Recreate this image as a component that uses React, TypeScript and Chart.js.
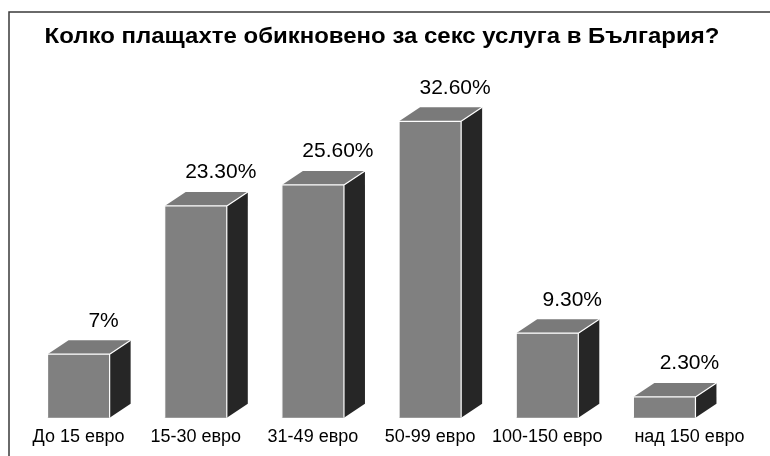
import React, { useEffect, useRef } from "react";
import { Chart, registerables } from "chart.js";

Chart.register(...registerables);

const TITLE = "Колко плащахте обикновено за секс услуга в България?";
const categories = ["До 15 евро", "15-30 евро", "31-49 евро", "50-99 евро", "100-150 евро", "над 150 евро"];
const values = [7, 23.3, 25.6, 32.6, 9.3, 2.3];
const valueLabels = ["7%", "23.30%", "25.60%", "32.60%", "9.30%", "2.30%"];

const FRONT = "#808080";
const TOP = "#7a7a7a";
const SIDE = "#262626";
const DX = 21;
const DY = 14;
const FONT = "'Liberation Sans', Arial, sans-serif";

const cubePlugin = {
  id: "cube3d",
  beforeDraw(chart: any) {
    const ctx = chart.ctx;
    ctx.save();
    ctx.fillStyle = "#ffffff";
    ctx.fillRect(0, 0, chart.width, chart.height);
    ctx.strokeStyle = "#3a3a3a";
    ctx.lineWidth = 1.5;
    ctx.strokeRect(9, 12, chart.width + 20, chart.height + 20);
    ctx.fillStyle = "#000";
    ctx.font = "bold 22px " + FONT;
    ctx.textAlign = "center";
    ctx.textBaseline = "alphabetic";
    ctx.translate(382, 43);
    ctx.scale(1.09, 1);
    ctx.fillText(TITLE, 0, 0);
    ctx.restore();
  },
  afterDatasetsDraw(chart: any) {
    const ctx = chart.ctx;
    const meta = chart.getDatasetMeta(0);
    ctx.save();
    meta.data.forEach((bar: any, i: number) => {
      const { x, y, base, width } = bar.getProps(["x", "y", "base", "width"], true);
      const l = x - width / 2;
      const r = x + width / 2;
      ctx.fillStyle = FRONT;
      ctx.fillRect(l, y, width, base - y);
      ctx.beginPath();
      ctx.moveTo(l, y);
      ctx.lineTo(l + DX, y - DY);
      ctx.lineTo(r + DX, y - DY);
      ctx.lineTo(r, y);
      ctx.closePath();
      ctx.fillStyle = TOP;
      ctx.fill();
      ctx.beginPath();
      ctx.moveTo(r, y);
      ctx.lineTo(r + DX, y - DY);
      ctx.lineTo(r + DX, base - DY);
      ctx.lineTo(r, base);
      ctx.closePath();
      ctx.fillStyle = SIDE;
      ctx.fill();
      ctx.strokeStyle = "#ffffff";
      ctx.lineWidth = 1.2;
      ctx.beginPath();
      ctx.moveTo(l, base);
      ctx.lineTo(l, y);
      ctx.lineTo(r, y);
      ctx.lineTo(r, base);
      ctx.moveTo(r, y);
      ctx.lineTo(r + DX, y - DY);
      ctx.stroke();
      ctx.fillStyle = "#000";
      ctx.font = "21px " + FONT;
      ctx.textAlign = "center";
      ctx.textBaseline = "alphabetic";
      ctx.fillText(valueLabels[i], x + 25, y - DY - 13.5);
    });
    ctx.restore();
  },
};

export default function App() {
  const ref = useRef<HTMLCanvasElement | null>(null);
  useEffect(() => {
    if (!ref.current) return;
    const chart = new Chart(ref.current, {
      type: "bar",
      data: {
        labels: categories,
        datasets: [
          {
            data: values,
            backgroundColor: "rgba(0,0,0,0)",
            borderWidth: 0,
            barPercentage: 0.53,
            categoryPercentage: 1,
          },
        ],
      },
      options: {
        responsive: false,
        maintainAspectRatio: false,
        animation: false,
        layout: { padding: { left: 20, right: 47, top: 54, bottom: 0.6 } },
        plugins: {
          legend: { display: false },
          title: { display: false },
          tooltip: { enabled: false },
        },
        scales: {
          x: {
            grid: { display: false, drawTicks: false },
            border: { display: false },
            ticks: {
              color: "#000",
              padding: 8,
              maxRotation: 0,
              autoSkip: false,
              font: { family: FONT, size: 18 },
              callback: (_v: any, i: number) =>
                i === categories.length - 1 ? "\u00a0".repeat(10) + categories[i] : categories[i],
            },
          },
          y: { display: false, min: 0, max: 40 },
        },
      },
      plugins: [cubePlugin],
    });
    return () => chart.destroy();
  }, []);
  return (
    <div style={{ position: "absolute", left: 0, top: 0, width: 770, height: 456 }}>
      <canvas ref={ref} width={770} height={456} style={{ display: "block" }} />
    </div>
  );
}
